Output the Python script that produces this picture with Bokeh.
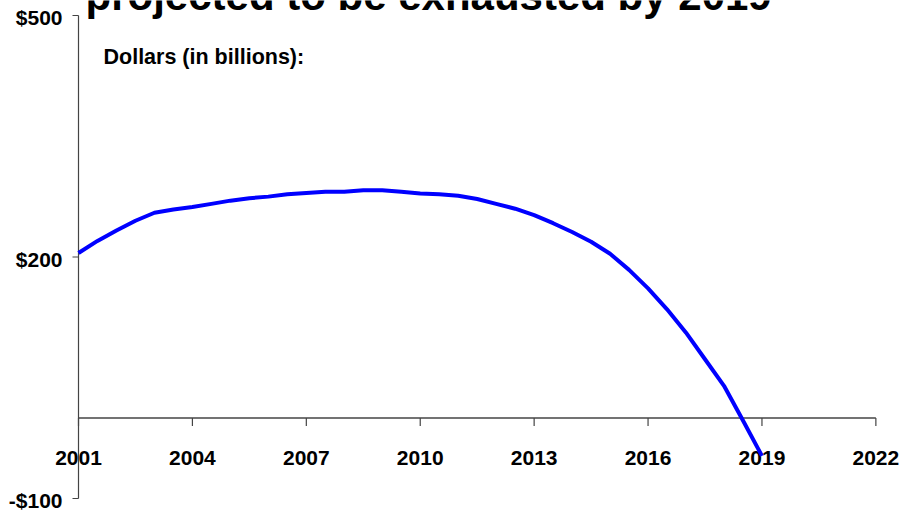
from bokeh.plotting import figure
from bokeh.models import Label, ColumnDataSource
from bokeh.core.properties import value
from bokeh.embed import file_html
from bokeh.resources import INLINE

# ---- data ----
years = [2001.0, 2001.5, 2002.0, 2002.5, 2003.0, 2003.5, 2004.0, 2004.5, 2005.0, 2005.5,
         2006.0, 2006.5, 2007.0, 2007.5, 2008.0, 2008.5, 2009.0, 2009.5, 2010.0, 2010.5,
         2011.0, 2011.5, 2012.0, 2012.5, 2013.0, 2013.5, 2014.0, 2014.5, 2015.0, 2015.5,
         2016.0, 2016.5, 2017.0, 2017.5, 2018.0, 2018.5, 2019.0]
balance = [205, 220, 233, 245, 255, 259, 262, 266, 270, 273,
           275, 278, 279.5, 281, 281, 283, 283, 281, 279, 278,
           276, 272, 266, 260, 252, 242, 231, 219, 204, 184,
           161, 135, 106, 73, 40, -3, -47]

x_ticks = [2001, 2004, 2007, 2010, 2013, 2016, 2019, 2022]
x_tick_labels = ["2001", "2004", "2007", "2010", "2013", "2016", "2019", "2022"]
y_ticks = [-100, 200, 500]
y_tick_labels = ["-$100", "$200", "$500"]

title_text = "projected to be exhausted by 2019"
unit_text = "Dollars (in billions):"

FONT = "Liberation Sans"
W, H = 904, 516
AXIS_X_PX = 78
PX_PER_UNIT = 483 / 600
PX_PER_YEAR = 37.97
y_start = y_ticks[0] - 18 / PX_PER_UNIT
y_end = y_ticks[-1] + 15 / PX_PER_UNIT
x_start = x_ticks[0] - AXIS_X_PX / PX_PER_YEAR
x_end = x_ticks[0] + (W - AXIS_X_PX) / PX_PER_YEAR

p = figure(width=W, height=H, output_backend="svg", toolbar_location=None,
           x_range=(x_start, x_end), y_range=(y_start, y_end),
           x_axis_location=None, y_axis_location=None,
           min_border_left=0, min_border_right=0, min_border_top=0, min_border_bottom=0)
p.outline_line_color = None
p.grid.visible = False
p.background_fill_color = "white"
p.border_fill_color = "white"

AX_COLOR = "#444444"
x0 = x_ticks[0]

# y axis (drawn at x = first year)
ytick_len = 6 / PX_PER_YEAR
p.segment(x0=[x0], y0=[y_ticks[0]], x1=[x0], y1=[y_ticks[-1]],
          line_color=AX_COLOR, line_width=1.2)
p.segment(x0=[x0] * len(y_ticks), y0=y_ticks, x1=[x0 - ytick_len] * len(y_ticks), y1=y_ticks,
          line_color=AX_COLOR, line_width=1.2)
p.text(x=[x0] * len(y_ticks), y=y_ticks, text=y_tick_labels, x_offset=-16, y_offset=2,
       text_align="right", text_baseline="middle", text_font=value(FONT),
       text_font_style="bold", text_font_size="21px", text_color="black")

# x axis drawn at y = 0
xtick_len = 8 / PX_PER_UNIT
p.segment(x0=[x_ticks[0]], y0=[0], x1=[x_ticks[-1]], y1=[0],
          line_color=AX_COLOR, line_width=1.5)
p.segment(x0=x_ticks, y0=[0] * len(x_ticks), x1=x_ticks, y1=[-xtick_len] * len(x_ticks),
          line_color=AX_COLOR, line_width=1.2)
p.text(x=x_ticks, y=[0] * len(x_ticks), text=x_tick_labels, y_offset=40,
       text_align="center", text_baseline="middle", text_font=value(FONT),
       text_font_style="bold", text_font_size="21px", text_color="black")

# series
src = ColumnDataSource(dict(x=years, y=balance))
p.line("x", "y", source=src, line_color="#0000FF", line_width=4, line_join="round")

# texts
p.add_layout(Label(x=85, y=H + 5, x_units="screen", y_units="screen", text=title_text,
                   text_font=FONT, text_font_style="bold", text_font_size="42px",
                   text_baseline="alphabetic", text_color="black"))
p.add_layout(Label(x=103, y=H - 56, x_units="screen", y_units="screen", text=unit_text,
                   text_font=FONT, text_font_style="bold", text_font_size="21.5px",
                   text_baseline="alphabetic", text_color="black"))

open("out.html", "w").write(file_html(p, INLINE))
